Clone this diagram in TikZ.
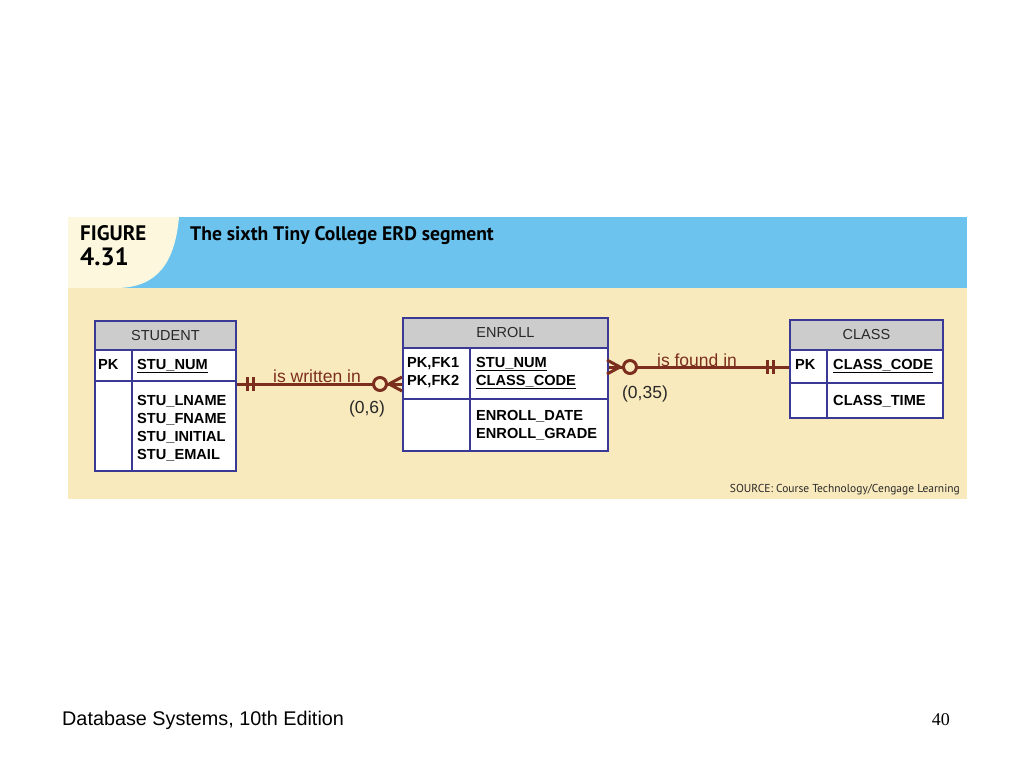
\documentclass[tikz,border=0pt]{standalone}
\usepackage{fontspec}
\setmainfont{Liberation Sans}
\newfontfamily\figfont{PT Sans}
\newfontfamily\pagefont{Liberation Serif}
\usepackage{tikz}
\usetikzlibrary{calc}
\usetikzlibrary{positioning}
\definecolor{panelcream}{RGB}{249,234,189}
\definecolor{tabcream}{RGB}{253,247,221}
\definecolor{headblue}{RGB}{108,196,238}
\definecolor{tblblue}{RGB}{58,58,150}
\definecolor{headgray}{RGB}{204,204,204}
\definecolor{relbrown}{RGB}{124,46,30}
\definecolor{darktxt}{RGB}{40,40,40}
\newcommand{\attr}[1]{\fontsize{14.6}{18}\selectfont\bfseries #1}
\newcommand{\bars}[2]{\draw[relline] ( #1 , #2 - 7 ) -- ( #1 , #2 + 7 ); \draw[relline] ( #1 + 6 , #2 - 7 ) -- ( #1 + 6 , #2 + 7 );}

\begin{document}
\begin{tikzpicture}[x=1pt, y=-1pt,
        tblhead/.style={draw=tblblue, line width=1.8pt, fill=headgray, anchor=north west, inner sep=0pt,
            text=darktxt, font=\fontsize{14.5}{14.5}\selectfont},
        tblcell/.style={draw=tblblue, line width=1.8pt, fill=white, anchor=north west, inner sep=0pt},
        field/.style={anchor=base west, inner sep=0pt, text=black},
        relline/.style={draw=relbrown, line width=3pt},
        rellabel/.style={anchor=base, inner sep=0pt, text=relbrown, font=\fontsize{17.5}{17.5}\selectfont},
        card/.style={anchor=base, inner sep=0pt, text=darktxt, font=\fontsize{17.5}{17.5}\selectfont}]
        \useasboundingbox (0,0) rectangle (1024,768);
        % figure panel
        \fill[panelcream] (68,217) rectangle (967,499);
        \fill[headblue] (68,217) rectangle (967,288);
        \fill[tabcream] (68,217) -- (179,217) .. controls (175,262) and (158,287) .. (118,288) -- (68,288) -- cycle;
        \node[anchor=base west, inner sep=0pt, font=\figfont\bfseries\fontsize{21}{21}\selectfont] (figword) at (80,240) {FIGURE};
        \node[anchor=base west, inner sep=0pt, font=\figfont\bfseries\fontsize{25}{25}\selectfont] (fignum) at (80,265) {4.31};
        \node[anchor=base west, inner sep=0pt, font=\figfont\bfseries\fontsize{19.6}{19.6}\selectfont] (figtitle) at (190,240) {The sixth Tiny College ERD segment};
        \node[anchor=base east, inner sep=0pt, text=darktxt, font=\figfont\fontsize{11.5}{11.5}\selectfont] (source) at (960,492) {SOURCE: Course Technology/Cengage Learning};
        % student
        \node[tblcell, minimum width=141, minimum height=121] (stuattr) at (94,349) {};
        \node[tblcell, minimum width=141, minimum height=31] (stukey) at (94,349) {};
        \node[tblhead, minimum width=141, minimum height=29] (stuhead) at (94,320) {STUDENT};
        \draw[draw=tblblue, line width=1.8pt] (132,349) -- (132,470);
        \node[field] (stupk) at (98,369) {\attr{PK}};
        \node[field] (stunum) at (137,369) {\attr{\underline{STU\_NUM}}};
        \node[field] (stulname) at (137,405) {\attr{STU\_LNAME}};
        \node[field] (stufname) at (137,423) {\attr{STU\_FNAME}};
        \node[field] (stuinit) at (137,441) {\attr{STU\_INITIAL}};
        \node[field] (stuemail) at (137,459) {\attr{STU\_EMAIL}};
        % enroll
        \node[tblcell, minimum width=205, minimum height=103] (enrattr) at (402,347) {};
        \node[tblcell, minimum width=205, minimum height=51] (enrkey) at (402,347) {};
        \node[tblhead, minimum width=205, minimum height=30] (enrhead) at (402,317) {ENROLL};
        \draw[draw=tblblue, line width=1.8pt] (470,347) -- (470,450);
        \node[field] (enrfk1) at (407,367) {\attr{PK,FK1}};
        \node[field] (enrfk2) at (407,385) {\attr{PK,FK2}};
        \node[field] (enrstu) at (476,367) {\attr{\underline{STU\_NUM}}};
        \node[field] (enrclass) at (476,385) {\attr{\underline{CLASS\_CODE}}};
        \node[field] (enrdate) at (476,420) {\attr{ENROLL\_DATE}};
        \node[field] (enrgrade) at (476,438) {\attr{ENROLL\_GRADE}};
        % class
        \node[tblcell, minimum width=153, minimum height=68] (clsattr) at (789,349) {};
        \node[tblcell, minimum width=153, minimum height=33] (clskey) at (789,349) {};
        \node[tblhead, minimum width=153, minimum height=30] (clshead) at (789,319) {CLASS};
        \draw[draw=tblblue, line width=1.8pt] (827,349) -- (827,417);
        \node[field] (clspk) at (795,369) {\attr{PK}};
        \node[field] (clscode) at (833,369) {\attr{\underline{CLASS\_CODE}}};
        \node[field] (clstime) at (833,405) {\attr{CLASS\_TIME}};
        % student -- enroll
        \coordinate (rel1) at (0,384);
        \draw[relline] (stuattr.east |- rel1) -- (enrkey.west |- rel1);
        \bars{247}{384}
        \draw[relline, fill=panelcream] (380,384) circle (6.5);
        \draw[relline] (389,384) -- (402,377);
        \draw[relline] (389,384) -- (402,391);
        \node[rellabel] (writes) at (317,382) {is written in};
        \node[card] (card1) at (367,413) {(0,6)};
        % enroll -- class
        \coordinate (rel2) at (0,367);
        \draw[relline] (enrkey.east |- rel2) -- (clskey.west |- rel2);
        \bars{767}{367}
        \draw[relline, fill=panelcream] (630,367) circle (6.5);
        \draw[relline] (620,367) -- (607,360);
        \draw[relline] (620,367) -- (607,374);
        \node[rellabel] (found) at (697,366) {is found in};
        \node[card] (card2) at (645,398) {(0,35)};
        % footer
        \node[anchor=base west, inner sep=0pt, font=\fontsize{19.8}{19.8}\selectfont] (footer) at (62,725) {Database Systems, 10th Edition};
        \node[anchor=base east, inner sep=0pt, font=\pagefont\fontsize{18}{18}\selectfont] (pagenum) at (950,725) {40};
    \end{tikzpicture}
\end{document}
